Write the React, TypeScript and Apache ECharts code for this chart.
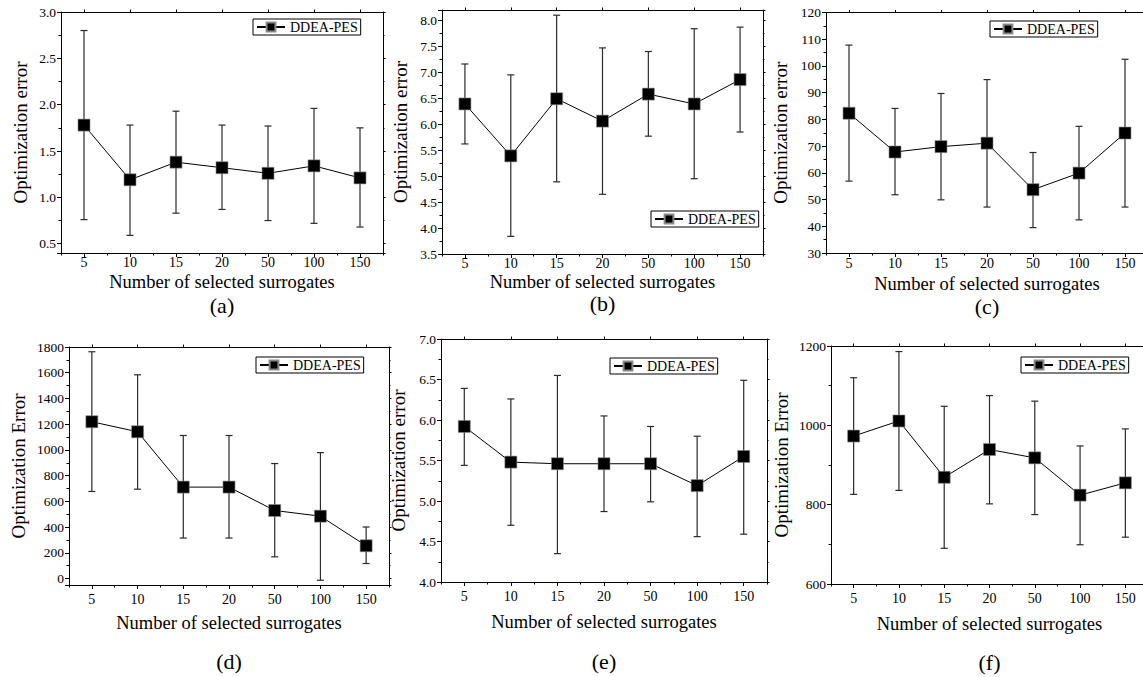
import React, { useEffect, useRef } from 'react';
import * as echarts from 'echarts';

// ---------- data ----------
const categories = ['5', '10', '15', '20', '50', '100', '150'];
const seriesName = 'DDEA-PES';
const xTitle = 'Number of selected surrogates';
const yTitles = [
  'Optimization error',
  'Optimization error',
  'Optimization error',
  'Optimization Error',
  'Optimization error',
  'Optimization Error',
];
const panelLabels = ['(a)', '(b)', '(c)', '(d)', '(e)', '(f)'];

const aMean = [1.78, 1.19, 1.38, 1.32, 1.26, 1.34, 1.21];
const aLow = [0.76, 0.59, 0.83, 0.87, 0.75, 0.72, 0.68];
const aHigh = [2.8, 1.78, 1.93, 1.78, 1.77, 1.96, 1.75];

const bMean = [6.39, 5.39, 6.49, 6.06, 6.58, 6.39, 6.86];
const bLow = [5.62, 3.84, 4.89, 4.65, 5.77, 4.95, 5.85];
const bHigh = [7.16, 6.95, 8.1, 7.47, 7.4, 7.84, 7.87];

const cMean = [82.3, 67.8, 69.8, 71.1, 53.7, 59.9, 74.9];
const cLow = [56.9, 51.8, 49.9, 47.2, 39.5, 42.4, 47.2];
const cHigh = [107.8, 84.1, 89.7, 94.9, 67.6, 77.4, 102.5];

const dMean = [1219, 1141, 711, 711, 529, 485, 255];
const dLow = [677, 695, 315, 315, 169, -13, 117];
const dHigh = [1763, 1584, 1112, 1112, 894, 979, 401];

const eMean = [5.92, 5.48, 5.46, 5.46, 5.46, 5.19, 5.55];
const eLow = [5.44, 4.7, 4.35, 4.87, 4.99, 4.56, 4.59];
const eHigh = [6.39, 6.26, 6.55, 6.05, 5.92, 5.8, 6.49];

const fMean = [973, 1011, 869, 939, 918, 824, 855];
const fLow = [826, 836, 690, 802, 775, 699, 718];
const fHigh = [1120, 1186, 1048, 1075, 1061, 948, 991];

const means = [aMean, bMean, cMean, dMean, eMean, fMean];
const lows = [aLow, bLow, cLow, dLow, eLow, fLow];
const highs = [aHigh, bHigh, cHigh, dHigh, eHigh, fHigh];

const yMins = [0.4, 3.5, 30, -50, 4, 600];
const yMaxs = [3.0, 8.2, 120, 1800, 7, 1200];
const yIntervals = [0.5, 0.5, 10, 200, 0.5, 200];
const yDecimals = [1, 1, 0, 0, 1, 0];

// ---------- layout ----------
const FONT = "'Liberation Serif', 'Times New Roman', serif";
const layouts = [
  { left: 61, top: 12, right: 383, bottom: 253, yGap: 31.5, xGap: 19.5, xMargin: 2, legend: [253, 19], label: 305 },
  { left: 442, top: 10, right: 763, bottom: 254, yGap: 32.5, xGap: 18.5, xMargin: 2, legend: [651, 211], label: 303 },
  { left: 826, top: 12.5, right: 1148, bottom: 253, yGap: 36.5, xGap: 21.5, xMargin: 3, legend: [990, 21], label: 306 },
  { left: 69, top: 347, right: 389, bottom: 585, yGap: 41.5, xGap: 28, xMargin: 7, legend: [256, 357], label: 661 },
  { left: 441, top: 339, right: 767, bottom: 582, yGap: 33.5, xGap: 30, xMargin: 7, legend: [610, 358], label: 661 },
  { left: 831, top: 346, right: 1148, bottom: 584, yGap: 40.5, xGap: 30, xMargin: 7, legend: [1021, 357], label: 662 },
];

function buildOption() {
  const grid: any[] = [];
  const xAxis: any[] = [];
  const yAxis: any[] = [];
  const series: any[] = [];
  const legend: any[] = [];
  const graphic: any[] = [];
  const black = { color: '#000', width: 1 };

  layouts.forEach((L, i) => {
    grid.push({
      left: L.left,
      top: L.top,
      width: L.right - L.left,
      height: L.bottom - L.top,
      containLabel: false,
      outerBoundsMode: 'none',
      show: false,
    });
    const axisLine = { show: true, onZero: false, lineStyle: black };
    xAxis.push({
      type: 'category',
      gridIndex: i,
      position: 'bottom',
      data: categories,
      boundaryGap: true,
      name: xTitle,
      nameLocation: 'middle',
      nameGap: L.xGap,
      nameTextStyle: { fontSize: 18.5, fontFamily: FONT, color: '#000' },
      axisLine,
      axisTick: { show: true, alignWithLabel: true, interval: 0, length: 4, lineStyle: black },
      axisLabel: { interval: 0, margin: L.xMargin, fontSize: 14, fontFamily: FONT, color: '#000' },
      splitLine: { show: false },
    });
    xAxis.push({
      type: 'category',
      gridIndex: i,
      position: 'bottom',
      data: categories,
      boundaryGap: true,
      axisLine: { show: false, onZero: false },
      axisTick: { show: true, interval: 0, length: 2.5, lineStyle: black },
      axisLabel: { show: false },
      splitLine: { show: false },
    });
    xAxis.push({
      type: 'category',
      gridIndex: i,
      position: 'top',
      data: categories,
      boundaryGap: true,
      axisLine,
      axisTick: { show: true, alignWithLabel: true, interval: 0, length: 2.5, lineStyle: black },
      axisLabel: { show: false },
      splitLine: { show: false },
    });
    const common = {
      type: 'value',
      gridIndex: i,
      min: yMins[i],
      max: yMaxs[i],
      minInterval: yIntervals[i],
      maxInterval: yIntervals[i],
      splitNumber: 6,
      splitLine: { show: false },
      minorSplitLine: { show: false },
    };
    const dec = yDecimals[i];
    yAxis.push({
      ...common,
      position: 'left',
      name: yTitles[i],
      nameLocation: 'middle',
      nameGap: L.yGap,
      nameTextStyle: { fontSize: 19, fontFamily: FONT, color: '#000' },
      axisLine,
      axisTick: { show: true, length: 4, lineStyle: black },
      minorTick: { show: true, splitNumber: 2, length: 2.5, lineStyle: black },
      axisLabel: {
        margin: 5,
        fontSize: 13.5,
        fontFamily: FONT,
        color: '#000',
        showMinLabel: i === 0 || i === 3 ? false : true,
        showMaxLabel: i === 1 ? false : true,
        formatter: (v: number) => v.toFixed(dec),
      },
    });
    yAxis.push({
      ...common,
      position: 'right',
      axisLine,
      axisTick: { show: true, length: 2.5, lineStyle: black },
      minorTick: { show: true, splitNumber: 2, length: 1.5, lineStyle: black },
      axisLabel: { show: false },
    });

    const low = lows[i];
    const high = highs[i];
    series.push({
      type: 'custom',
      xAxisIndex: 3 * i,
      yAxisIndex: 2 * i,
      silent: true,
      clip: false,
      z: 2,
      encode: { x: 0, y: [1, 2] },
      data: categories.map((_, j) => [j, low[j], high[j]]),
      renderItem: (_params: any, api: any) => {
        const x = api.value(0);
        const p1 = api.coord([x, api.value(1)]);
        const p2 = api.coord([x, api.value(2)]);
        const cap = 3.5;
        const st = { stroke: '#2a2a2a', lineWidth: 1.2 };
        return {
          type: 'group',
          children: [
            { type: 'line', shape: { x1: p1[0], y1: p1[1], x2: p2[0], y2: p2[1] }, style: st },
            { type: 'line', shape: { x1: p1[0] - cap, y1: p1[1], x2: p1[0] + cap, y2: p1[1] }, style: st },
            { type: 'line', shape: { x1: p2[0] - cap, y1: p2[1], x2: p2[0] + cap, y2: p2[1] }, style: st },
          ],
        };
      },
    });
    series.push({
      type: 'line',
      name: seriesName,
      xAxisIndex: 3 * i,
      yAxisIndex: 2 * i,
      data: means[i],
      symbol: 'rect',
      symbolSize: 12,
      showSymbol: true,
      z: 3,
      lineStyle: { color: '#000', width: 1 },
      itemStyle: { color: '#000', borderColor: '#888', borderWidth: 0.6 },
    });

    legend.push({
      show: true,
      left: L.legend[0],
      top: L.legend[1],
      orient: 'horizontal',
      data: [seriesName],
      selectedMode: false,
      borderColor: '#000',
      borderWidth: 1,
      borderRadius: 0,
      backgroundColor: '#fff',
      padding: [1, 3, 1, 3],
      itemWidth: 28,
      itemHeight: 11,
      itemGap: 0,
      textStyle: { fontSize: 14, fontFamily: FONT, color: '#000' },
    });

    graphic.push({
      type: 'text',
      x: (L.left + L.right) / 2,
      y: L.label,
      style: {
        text: panelLabels[i],
        fontSize: 22,
        fontFamily: FONT,
        fill: '#000',
        align: 'center',
        verticalAlign: 'middle',
      },
    });
  });

  return {
    animation: false,
    backgroundColor: '#fff',
    textStyle: { fontFamily: FONT },
    grid,
    xAxis,
    yAxis,
    series,
    legend,
    graphic,
  };
}

export default function App() {
  const ref = useRef<HTMLDivElement>(null);
  useEffect(() => {
    if (!ref.current) return;
    const chart = echarts.init(ref.current, null, { renderer: 'svg' });
    chart.setOption(buildOption() as any);
    return () => chart.dispose();
  }, []);
  return (
    <div
      ref={ref}
      style={{ position: 'absolute', left: 0, top: 0, width: 1143, height: 677, background: '#fff' }}
    />
  );
}
